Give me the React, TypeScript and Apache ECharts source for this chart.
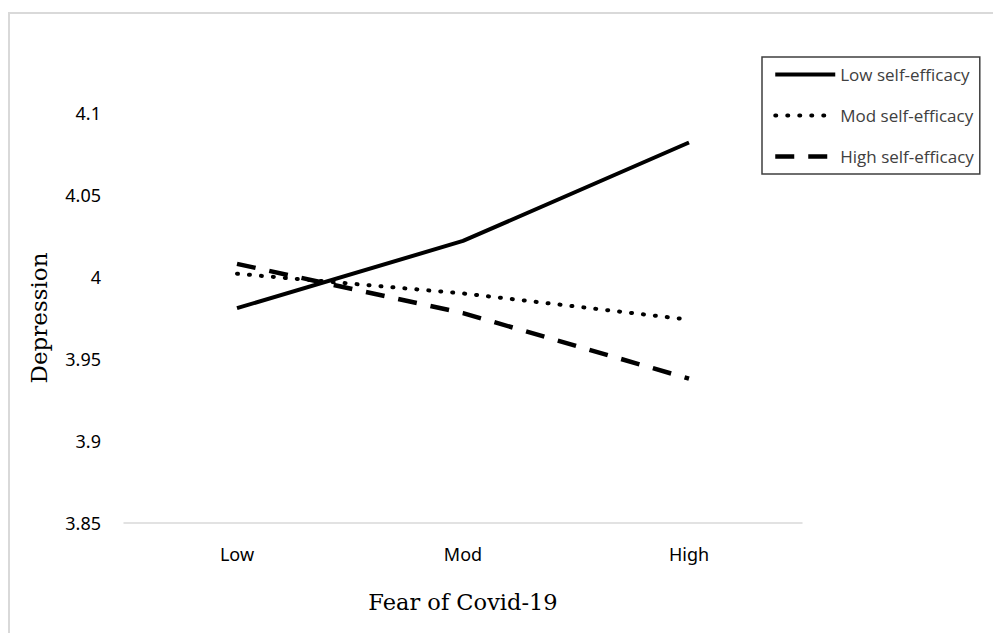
import React, { useEffect, useRef } from "react";
import * as echarts from "echarts";

const categories = ["Low", "Mod", "High"];
const lowSelfEfficacy = [3.981, 4.022, 4.082];
const modSelfEfficacy = [4.002, 3.99, 3.974];
const highSelfEfficacy = [4.008, 3.978, 3.938];
const seriesNames = ["Low self-efficacy", "Mod self-efficacy", "High self-efficacy"];

export default function App() {
  const ref = useRef<HTMLDivElement>(null);
  useEffect(() => {
    const chart = echarts.init(ref.current!, null, { renderer: "svg" });
    const tickFont = { fontFamily: "Noto Sans", fontSize: 18, color: "#000" };
    const styles = [
      { color: "#000", width: 4, type: "solid" },
      { color: "#000", width: 4, type: [1, 11], cap: "round" },
      { color: "#000", width: 4.5, type: [19, 14] },
    ];
    const datasets = [lowSelfEfficacy, modSelfEfficacy, highSelfEfficacy];
    chart.setOption({
      animation: false,
      backgroundColor: "#fff",
      graphic: [
        {
          type: "rect",
          shape: { x: 9, y: 13, width: 1100, height: 1000 },
          style: { fill: "none", stroke: "#d9d9d9", lineWidth: 2 },
          silent: true,
        },
      ],
      legend: {
        orient: "vertical",
        left: 762,
        top: 57,
        padding: [9, 6, 9, 11],
        borderColor: "#3f3f3f",
        borderWidth: 1.5,
        itemWidth: 60,
        itemHeight: 20,
        itemGap: 24,
        itemStyle: { color: "rgba(0,0,0,0)", borderWidth: 0, opacity: 0 },
        textStyle: { fontFamily: "Open Sans", fontSize: 17, color: "#404040" },
        data: seriesNames.map((n, i) => ({ name: n, lineStyle: styles[i] })),
      },
      grid: { left: 124, right: 191, top: 113, bottom: 633 - 523 },
      xAxis: {
        type: "category",
        data: categories,
        boundaryGap: true,
        axisLine: { lineStyle: { color: "#d9d9d9", width: 1.5 } },
        axisTick: { show: false },
        axisLabel: { ...tickFont, margin: 22 },
        name: "Fear of Covid-19",
        nameLocation: "middle",
        nameGap: 67,
        nameTextStyle: { fontFamily: "DejaVu Serif", fontSize: 22.5, color: "#000" },
      },
      yAxis: {
        type: "value",
        min: 3.85,
        max: 4.1,
        interval: 0.05,
        axisLine: { show: false },
        axisTick: { show: false },
        splitLine: { show: false },
        axisLabel: { ...tickFont, margin: 23 },
        name: "Depression",
        nameLocation: "middle",
        nameRotate: 90,
        nameGap: 74,
        nameTextStyle: { fontFamily: "DejaVu Serif", fontSize: 23, color: "#000" },
      },
      series: datasets.map((d, i) => ({
        name: seriesNames[i],
        type: "line",
        data: d,
        symbol: "none",
        lineStyle: styles[i],
        itemStyle: { color: "#000" },
      })),
    });
    return () => chart.dispose();
  }, []);
  return (
    <div
      ref={ref}
      style={{ position: "absolute", left: 0, top: 0, width: 993, height: 633 }}
    />
  );
}
